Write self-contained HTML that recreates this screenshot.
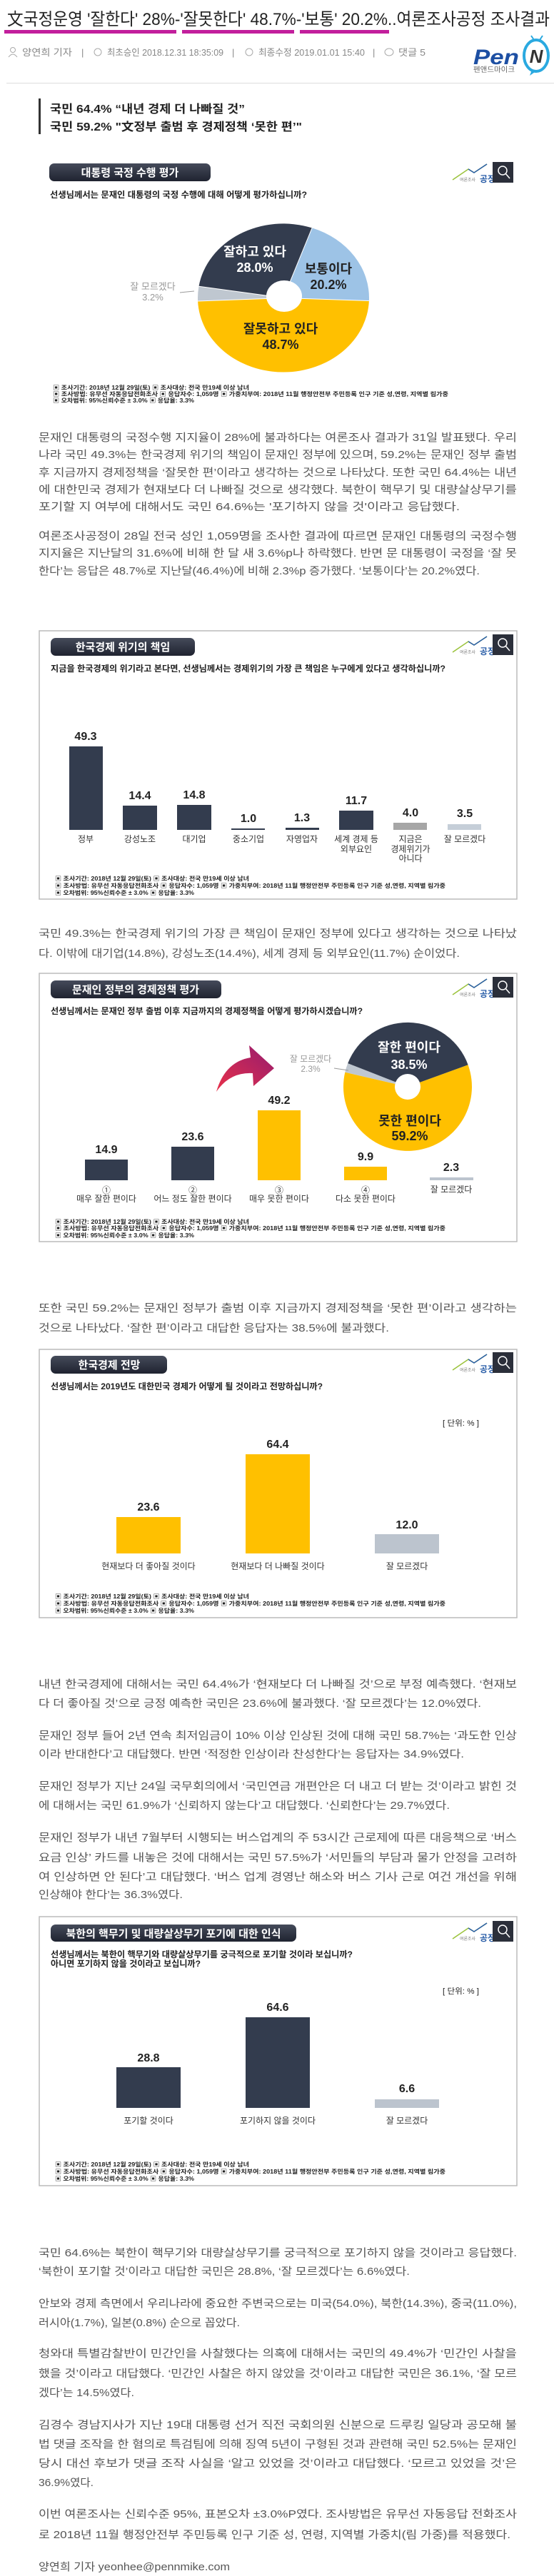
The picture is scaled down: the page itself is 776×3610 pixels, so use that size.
<!DOCTYPE html>
<html><head><meta charset="utf-8"><style>
html,body{margin:0;padding:0;background:#fff}
svg{display:block}
text{font-family:"Liberation Sans","Noto Sans CJK KR",sans-serif}
.b{font-size:15px;fill:#555}
.v{font-size:16px;font-weight:bold;fill:#222;text-anchor:middle}
.c{font-size:12px;fill:#333;text-anchor:middle}
.f{font-size:8px;fill:#222;font-weight:bold}
.q{font-size:12px;fill:#222;font-weight:bold}
.p{font-size:15px;fill:#fff;font-weight:bold;text-anchor:middle}
.m{font-size:13px;fill:#888}
</style></head><body>
<svg width="776" height="3610" viewBox="0 0 776 3610" xmlns="http://www.w3.org/2000/svg">
<defs>
<linearGradient id="pill" x1="0" y1="0" x2="0" y2="1"><stop offset="0" stop-color="#454b5a"/><stop offset="1" stop-color="#1f2330"/></linearGradient>
<linearGradient id="arr" x1="0" y1="1" x2="1" y2="0"><stop offset="0" stop-color="#e8304a"/><stop offset="1" stop-color="#951c6e"/></linearGradient>
<g id="lg">
<polyline points="0,25 22,10 30,15 48,3" fill="none" stroke="#9bc33c" stroke-width="1.5"/>
<polyline points="22,10 30,15 48,3" fill="none" stroke="#2a5ea8" stroke-width="1.5"/>
<text x="10" y="27" font-size="6" fill="#777">여론조사</text>
<text x="38" y="28" font-size="12" fill="#2a5ea8" font-weight="bold">공정</text>
<rect x="56" y="0" width="29" height="29" fill="#2b2f3a"/>
<circle cx="70" cy="12" r="6" fill="none" stroke="#fff" stroke-width="1.5"/>
<line x1="74" y1="16" x2="80" y2="23" stroke="#fff" stroke-width="1.5"/>
</g>
</defs>

<!-- header -->
<text x="10" y="35" font-size="24" fill="#222" textLength="760" lengthAdjust="spacingAndGlyphs">文국정운영 '잘한다' 28%-'잘못한다' 48.7%-'보통' 20.2%..여론조사공정 조사결과</text>
<rect x="6" y="42" width="241" height="5" fill="#c21f9c"/>
<rect x="255" y="42" width="157" height="5" fill="#c21f9c"/>
<rect x="420" y="42" width="125" height="5" fill="#c21f9c"/>
<circle cx="18" cy="70" r="3.5" fill="none" stroke="#aaa"/><path d="M12,80 Q18,72 24,80" fill="none" stroke="#aaa"/>
<text class="m" x="31" y="78" textLength="70" lengthAdjust="spacingAndGlyphs">양연희 기자</text>
<text class="m" x="114" y="78" fill="#ccc">|</text>
<circle cx="137" cy="73" r="5" fill="none" stroke="#aaa"/>
<text class="m" x="150" y="78" textLength="163" lengthAdjust="spacingAndGlyphs">최초승인 2018.12.31 18:35:09</text>
<text class="m" x="325" y="78">|</text>
<circle cx="349" cy="73" r="5" fill="none" stroke="#aaa"/>
<text class="m" x="362" y="78" textLength="149" lengthAdjust="spacingAndGlyphs">최종수정 2019.01.01 15:40</text>
<text class="m" x="522" y="78">|</text>
<ellipse cx="545" cy="73" rx="6" ry="5" fill="none" stroke="#aaa"/>
<text class="m" x="558" y="78" textLength="38" lengthAdjust="spacingAndGlyphs">댓글 5</text>
<text x="663" y="90" font-size="30" font-weight="bold" font-style="italic" fill="#1d4fa3" textLength="64" lengthAdjust="spacingAndGlyphs">Pen</text>
<ellipse cx="751" cy="78" rx="17" ry="22" fill="#fff" stroke="#2aa9e0" stroke-width="4"/>
<path d="M745,98 L742,106 L752,99Z" fill="#2aa9e0"/>
<line x1="748" y1="56" x2="744" y2="50" stroke="#2aa9e0" stroke-width="2"/><line x1="756" y1="56" x2="760" y2="50" stroke="#2aa9e0" stroke-width="2"/>
<text x="751" y="88" font-size="26" font-weight="bold" font-style="italic" fill="#333" text-anchor="middle">N</text>
<text x="663" y="101" font-size="10" fill="#666" textLength="58" lengthAdjust="spacingAndGlyphs">펜앤드마이크</text>
<rect x="9" y="116" width="767" height="1" fill="#ddd"/>
<rect x="54" y="138" width="3" height="50" fill="#333"/>
<text x="70" y="158" font-size="16" font-weight="bold" fill="#222" textLength="273" lengthAdjust="spacingAndGlyphs">국민 64.4% “내년 경제 더 나빠질 것”</text>
<text x="70" y="183" font-size="16" font-weight="bold" fill="#222" textLength="353" lengthAdjust="spacingAndGlyphs">국민 59.2% "文정부 출범 후 경제정책 ‘못한 편’"</text>

<!-- chart 1 -->
<rect x="69" y="229" width="226" height="25" rx="7" fill="url(#pill)"/>
<text class="p" x="182" y="247">대통령 국정 수행 평가</text>
<use href="#lg" x="634" y="227"/>
<text class="q" x="70" y="277" textLength="360" lengthAdjust="spacingAndGlyphs">선생님께서는 문재인 대통령의 국정 수행에 대해 어떻게 평가하십니까?</text>
<path d="M397,417.5 L437.1,319.4 A120 104 0 0 1 516.9,421.5 Z" fill="#9dc3e6"/>
<path d="M397,417.5 L516.9,421.5 A120 104 0 0 1 277.1,422 Z" fill="#ffc000"/>
<path d="M397,417.5 L277.1,422 A120 104 0 0 1 278.5,401.2 Z" fill="#bfc7d0"/>
<path d="M397,417.5 L278.5,401.2 A120 104 0 0 1 437.1,319.4 Z" fill="#333c4e"/>
<path d="M397,417.5 L437.1,319.4 M397,417.5 L516.9,421.5 M397,417.5 L277.1,422 M397,417.5 L278.5,401.2" stroke="#fff" stroke-width="1"/>
<ellipse cx="398" cy="415" rx="25" ry="22" fill="#fff"/>
<g font-size="18" font-weight="bold" text-anchor="middle">
<text x="357" y="359" fill="#fff">잘하고 있다</text><text x="357" y="381" fill="#fff">28.0%</text>
<text x="460" y="383" fill="#222">보통이다</text><text x="460" y="405" fill="#222">20.2%</text>
<text x="393" y="467" fill="#222">잘못하고 있다</text><text x="393" y="489" fill="#222">48.7%</text>
</g>
<text x="214" y="406" font-size="13" fill="#999" text-anchor="middle">잘 모르겠다</text>
<text x="214" y="421" font-size="13" fill="#999" text-anchor="middle">3.2%</text>
<line x1="252" y1="410" x2="272" y2="408" stroke="#999"/>
<text class="f" x="74" y="546" textLength="275" lengthAdjust="spacingAndGlyphs">▣ 조사기간: 2018년 12월 29일(토) ▣ 조사대상: 전국 만19세 이상 남녀</text>
<text class="f" x="74" y="555" textLength="554" lengthAdjust="spacingAndGlyphs">▣ 조사방법: 유무선 자동응답전화조사 ▣ 응답자수: 1,059명 ▣ 가중치부여: 2018년 11월 행정안전부 주민등록 인구 기준 성,연령, 지역별 림가중</text>
<text class="f" x="74" y="564" textLength="198" lengthAdjust="spacingAndGlyphs">▣ 오차범위: 95%신뢰수준 ± 3.0% ▣ 응답율: 3.3%</text>

<g class="b">
<text class="b" x="54" y="618" textLength="670" lengthAdjust="spacingAndGlyphs">문재인 대통령의 국정수행 지지율이 28%에 불과하다는 여론조사 결과가 31일 발표됐다. 우리</text>
<text class="b" x="54" y="642" textLength="670" lengthAdjust="spacingAndGlyphs">나라 국민 49.3%는 한국경제 위기의 책임이 문재인 정부에 있으며, 59.2%는 문재인 정부 출범</text>
<text class="b" x="54" y="667" textLength="670" lengthAdjust="spacingAndGlyphs">후 지금까지 경제정책을 ‘잘못한 편’이라고 생각하는 것으로 나타났다. 또한 국민 64.4%는 내년</text>
<text class="b" x="54" y="691" textLength="670" lengthAdjust="spacingAndGlyphs">에 대한민국 경제가 현재보다 더 나빠질 것으로 생각했다. 북한이 핵무기 및 대량살상무기를</text>
<text class="b" x="54" y="715" textLength="590" lengthAdjust="spacingAndGlyphs">포기할 지 여부에 대해서도 국민  64.6%는 '포기하지 않을 것'이라고 응답했다.</text>
<text class="b" x="54" y="756" textLength="670" lengthAdjust="spacingAndGlyphs">여론조사공정이 28일 전국 성인 1,059명을 조사한 결과에 따르면 문재인 대통령의 국정수행</text>
<text class="b" x="54" y="780" textLength="670" lengthAdjust="spacingAndGlyphs">지지율은 지난달의 31.6%에 비해 한 달 새 3.6%p나 하락했다. 반면 문 대통령이 국정을 ‘잘 못</text>
<text class="b" x="54" y="805" textLength="618" lengthAdjust="spacingAndGlyphs">한다’는 응답은 48.7%로 지난달(46.4%)에 비해 2.3%p 증가했다. ‘보통이다’는 20.2%였다.</text>
</g>

<!-- chart 2 -->
<rect x="55" y="884" width="669" height="376" fill="#fff" stroke="#bbb" stroke-width="1.5"/>
<rect x="71" y="894" width="202" height="25" rx="7" fill="url(#pill)"/>
<text class="p" x="172" y="912">한국경제 위기의 책임</text>
<use href="#lg" x="634" y="889"/>
<text class="q" x="71" y="941" textLength="553" lengthAdjust="spacingAndGlyphs">지금을 한국경제의 위기라고 본다면, 선생님께서는 경제위기의 가장 큰 책임은 누구에게 있다고 생각하십니까?</text>
<g fill="#333c4e">
<rect x="97" y="1046" width="47" height="117"/>
<rect x="172" y="1129" width="48" height="34"/>
<rect x="248" y="1128" width="48" height="35"/>
<rect x="324" y="1161" width="47" height="2"/>
<rect x="400" y="1160" width="47" height="3"/>
<rect x="475" y="1136" width="48" height="27"/>
</g>
<rect x="551" y="1153" width="47" height="10" fill="#a6a6a6"/>
<rect x="627" y="1155" width="47" height="8" fill="#c5ced8"/>
<text class="v" x="120" y="1037">49.3</text><text class="v" x="196" y="1120">14.4</text><text class="v" x="272" y="1119">14.8</text>
<text class="v" x="348" y="1152">1.0</text><text class="v" x="423" y="1151">1.3</text><text class="v" x="499" y="1127">11.7</text>
<text class="v" x="575" y="1144">4.0</text><text class="v" x="651" y="1145">3.5</text>
<text class="c" x="120" y="1180">정부</text><text class="c" x="196" y="1180">강성노조</text><text class="c" x="272" y="1180">대기업</text>
<text class="c" x="348" y="1180">중소기업</text><text class="c" x="423" y="1180">자영업자</text>
<text class="c" x="499" y="1180">세계 경제 등</text><text class="c" x="499" y="1194">외부요인</text>
<text class="c" x="575" y="1180">지금은</text><text class="c" x="575" y="1194">경제위기가</text><text class="c" x="575" y="1207">아니다</text>
<text class="c" x="651" y="1180">잘 모르겠다</text>
<text class="f" x="77" y="1234" textLength="272" lengthAdjust="spacingAndGlyphs">▣ 조사기간: 2018년 12월 29일(토) ▣ 조사대상: 전국 만19세 이상 남녀</text>
<text class="f" x="77" y="1244" textLength="547" lengthAdjust="spacingAndGlyphs">▣ 조사방법: 유무선 자동응답전화조사 ▣ 응답자수: 1,059명 ▣ 가중치부여: 2018년 11월 행정안전부 주민등록 인구 기준 성,연령, 지역별 림가중</text>
<text class="f" x="77" y="1254" textLength="195" lengthAdjust="spacingAndGlyphs">▣ 오차범위: 95%신뢰수준 ± 3.0% ▣ 응답율: 3.3%</text>

<text class="b" x="54" y="1313" textLength="670" lengthAdjust="spacingAndGlyphs">국민 49.3%는 한국경제 위기의 가장 큰 책임이 문재인 정부에 있다고 생각하는 것으로 나타났</text>
<text class="b" x="54" y="1341" textLength="590" lengthAdjust="spacingAndGlyphs">다. 이밖에 대기업(14.8%), 강성노조(14.4%), 세계 경제 등 외부요인(11.7%) 순이었다.</text>

<!-- chart 3 -->
<rect x="55" y="1364" width="669" height="376" fill="#fff" stroke="#bbb" stroke-width="1.5"/>
<rect x="71" y="1374" width="239" height="25" rx="7" fill="url(#pill)"/>
<text class="p" x="190" y="1392">문재인 정부의 경제정책 평가</text>
<use href="#lg" x="634" y="1369"/>
<text class="q" x="71" y="1421" textLength="437" lengthAdjust="spacingAndGlyphs">선생님께서는 문재인 정부 출범 이후 지금까지의 경제정책을 어떻게 평가하시겠습니까?</text>
<rect x="119" y="1625" width="60" height="29" fill="#333c4e"/>
<rect x="240" y="1607" width="60" height="47" fill="#333c4e"/>
<rect x="361" y="1556" width="60" height="98" fill="#ffc000"/>
<rect x="482" y="1635" width="60" height="19" fill="#ffc000"/>
<rect x="602" y="1650" width="61" height="4" fill="#bcc4ce"/>
<text class="v" x="149" y="1616">14.9</text><text class="v" x="270" y="1598">23.6</text><text class="v" x="391" y="1547">49.2</text>
<text class="v" x="512" y="1626">9.9</text><text class="v" x="632" y="1641">2.3</text>
<text class="c" x="149" y="1672">①</text><text class="c" x="149" y="1684">매우 잘한 편이다</text>
<text class="c" x="270" y="1672">②</text><text class="c" x="270" y="1684">어느 정도 잘한 편이다</text>
<text class="c" x="391" y="1672">③</text><text class="c" x="391" y="1684">매우 못한 편이다</text>
<text class="c" x="512" y="1672">④</text><text class="c" x="512" y="1684">다소 못한 편이다</text>
<text class="c" x="632" y="1671">잘 모르겠다</text>
<path d="M571,1523 L655.6,1492.2 A90 90 0 1 1 483.3,1502.6 Z" fill="#ffc000"/>
<path d="M571,1523 L483.3,1502.6 A90 90 0 0 1 487.2,1490.1 Z" fill="#bfc7d0"/>
<path d="M571,1523 L487.2,1490.1 A90 90 0 0 1 655.6,1492.2 Z" fill="#333c4e"/>
<circle cx="571" cy="1523" r="18" fill="#fff"/>
<g font-size="18" font-weight="bold" text-anchor="middle">
<text x="573" y="1474" fill="#fff">잘한 편이다</text><text x="573" y="1498" fill="#fff">38.5%</text>
<text x="574" y="1577" fill="#222">못한 편이다</text><text x="574" y="1598" fill="#222">59.2%</text>
</g>
<text x="435" y="1488" font-size="12" fill="#999" text-anchor="middle">잘 모르겠다</text>
<text x="435" y="1502" font-size="12" fill="#999" text-anchor="middle">2.3%</text>
<line x1="468" y1="1497" x2="488" y2="1500" stroke="#999"/>
<path d="M303,1530 Q315,1488 351,1482 L349,1465 L384,1497 L355,1522 L354,1504 Q322,1502 303,1530 Z" fill="url(#arr)"/>
<text class="f" x="77" y="1715" textLength="272" lengthAdjust="spacingAndGlyphs">▣ 조사기간: 2018년 12월 29일(토) ▣ 조사대상: 전국 만19세 이상 남녀</text>
<text class="f" x="77" y="1724" textLength="547" lengthAdjust="spacingAndGlyphs">▣ 조사방법: 유무선 자동응답전화조사 ▣ 응답자수: 1,059명 ▣ 가중치부여: 2018년 11월 행정안전부 주민등록 인구 기준 성,연령, 지역별 림가중</text>
<text class="f" x="77" y="1734" textLength="195" lengthAdjust="spacingAndGlyphs">▣ 오차범위: 95%신뢰수준 ± 3.0% ▣ 응답율: 3.3%</text>

<text class="b" x="54" y="1838" textLength="670" lengthAdjust="spacingAndGlyphs">또한 국민 59.2%는 문재인 정부가 출범 이후 지금까지 경제정책을 ‘못한 편’이라고 생각하는</text>
<text class="b" x="54" y="1866" textLength="491" lengthAdjust="spacingAndGlyphs">것으로 나타났다. ‘잘한 편’이라고 대답한 응답자는 38.5%에 불과했다.</text>

<!-- chart 4 -->
<rect x="55" y="1891" width="669" height="376" fill="#fff" stroke="#bbb" stroke-width="1.5"/>
<rect x="71" y="1900" width="163" height="25" rx="7" fill="url(#pill)"/>
<text class="p" x="153" y="1918">한국경제 전망</text>
<use href="#lg" x="634" y="1895"/>
<text class="q" x="71" y="1947" textLength="381" lengthAdjust="spacingAndGlyphs">선생님께서는 2019년도 대한민국 경제가 어떻게 될 것이라고 전망하십니까?</text>
<text x="620" y="1998" font-size="11" fill="#222" textLength="51" lengthAdjust="spacingAndGlyphs">[ 단위: % ]</text>
<rect x="163" y="2126" width="90" height="51" fill="#ffc000"/>
<rect x="344" y="2038" width="90" height="139" fill="#ffc000"/>
<rect x="525" y="2150" width="90" height="27" fill="#bcc4ce"/>
<text class="v" x="208" y="2117">23.6</text><text class="v" x="389" y="2029">64.4</text><text class="v" x="570" y="2142">12.0</text>
<text class="c" x="208" y="2199">현재보다 더 좋아질 것이다</text><text class="c" x="389" y="2199">현재보다 더 나빠질 것이다</text><text class="c" x="570" y="2199">잘 모르겠다</text>
<text class="f" x="77" y="2240" textLength="272" lengthAdjust="spacingAndGlyphs">▣ 조사기간: 2018년 12월 29일(토) ▣ 조사대상: 전국 만19세 이상 남녀</text>
<text class="f" x="77" y="2250" textLength="547" lengthAdjust="spacingAndGlyphs">▣ 조사방법: 유무선 자동응답전화조사 ▣ 응답자수: 1,059명 ▣ 가중치부여: 2018년 11월 행정안전부 주민등록 인구 기준 성,연령, 지역별 림가중</text>
<text class="f" x="77" y="2260" textLength="195" lengthAdjust="spacingAndGlyphs">▣ 오차범위: 95%신뢰수준 ± 3.0% ▣ 응답율: 3.3%</text>

<text class="b" x="54" y="2365" textLength="670" lengthAdjust="spacingAndGlyphs">내년 한국경제에 대해서는 국민 64.4%가 ‘현재보다 더 나빠질 것’으로 부정 예측했다. ‘현재보</text>
<text class="b" x="54" y="2392" textLength="620" lengthAdjust="spacingAndGlyphs">다 더 좋아질 것’으로 긍정 예측한 국민은 23.6%에 불과했다. ‘잘 모르겠다’는 12.0%였다.</text>
<text class="b" x="54" y="2437" textLength="670" lengthAdjust="spacingAndGlyphs">문재인 정부 들어 2년 연속 최저임금이 10% 이상 인상된 것에 대해 국민 58.7%는 ‘과도한 인상</text>
<text class="b" x="54" y="2463" textLength="596" lengthAdjust="spacingAndGlyphs">이라 반대한다’고 대답했다. 반면 ‘적정한 인상이라 찬성한다’는 응답자는 34.9%였다.</text>
<text class="b" x="54" y="2508" textLength="670" lengthAdjust="spacingAndGlyphs">문재인 정부가 지난 24일 국무회의에서 ‘국민연금 개편안은 더 내고 더 받는 것’이라고 밝힌 것</text>
<text class="b" x="54" y="2535" textLength="576" lengthAdjust="spacingAndGlyphs">에 대해서는 국민 61.9%가 ‘신뢰하지 않는다’고 대답했다. ‘신뢰한다’는 29.7%였다.</text>
<text class="b" x="54" y="2580" textLength="670" lengthAdjust="spacingAndGlyphs">문재인 정부가 내년 7월부터 시행되는 버스업계의 주 53시간 근로제에 따른 대응책으로 ‘버스</text>
<text class="b" x="54" y="2608" textLength="670" lengthAdjust="spacingAndGlyphs">요금 인상’ 카드를 내놓은 것에 대해서는 국민 57.5%가 ‘서민들의 부담과 물가 안정을 고려하</text>
<text class="b" x="54" y="2635" textLength="670" lengthAdjust="spacingAndGlyphs">여 인상하면 안 된다’고 대답했다. ‘버스 업계 경영난 해소와 버스 기사 근로 여건 개선을 위해</text>
<text class="b" x="54" y="2660" textLength="202" lengthAdjust="spacingAndGlyphs">인상해야 한다’는 36.3%였다.</text>

<!-- chart 5 -->
<rect x="55" y="2686" width="669" height="377" fill="#fff" stroke="#bbb" stroke-width="1.5"/>
<rect x="71" y="2697" width="344" height="24" rx="7" fill="url(#pill)"/>
<text class="p" x="243" y="2715">북한의 핵무기 및 대량살상무기 포기에 대한 인식</text>
<use href="#lg" x="634" y="2692"/>
<text class="q" x="71" y="2743" textLength="423" lengthAdjust="spacingAndGlyphs">선생님께서는 북한이 핵무기와 대량살상무기를 궁극적으로 포기할 것이라 보십니까?</text>
<text class="q" x="71" y="2756" textLength="210" lengthAdjust="spacingAndGlyphs">아니면 포기하지 않을 것이라고 보십니까?</text>
<text x="620" y="2794" font-size="11" fill="#222" textLength="51" lengthAdjust="spacingAndGlyphs">[ 단위: % ]</text>
<rect x="163" y="2897" width="90" height="57" fill="#333c4e"/>
<rect x="344" y="2827" width="90" height="127" fill="#333c4e"/>
<rect x="525" y="2942" width="90" height="12" fill="#bcc4ce"/>
<text class="v" x="208" y="2889">28.8</text><text class="v" x="389" y="2818">64.6</text><text class="v" x="570" y="2932">6.6</text>
<text class="c" x="208" y="2976">포기할 것이다</text><text class="c" x="389" y="2976">포기하지 않을 것이다</text><text class="c" x="570" y="2976">잘 모르겠다</text>
<text class="f" x="77" y="3036" textLength="272" lengthAdjust="spacingAndGlyphs">▣ 조사기간: 2018년 12월 29일(토) ▣ 조사대상: 전국 만19세 이상 남녀</text>
<text class="f" x="77" y="3046" textLength="547" lengthAdjust="spacingAndGlyphs">▣ 조사방법: 유무선 자동응답전화조사 ▣ 응답자수: 1,059명 ▣ 가중치부여: 2018년 11월 행정안전부 주민등록 인구 기준 성,연령, 지역별 림가중</text>
<text class="f" x="77" y="3056" textLength="195" lengthAdjust="spacingAndGlyphs">▣ 오차범위: 95%신뢰수준 ± 3.0% ▣ 응답율: 3.3%</text>

<text class="b" x="54" y="3162" textLength="670" lengthAdjust="spacingAndGlyphs">국민 64.6%는 북한이 핵무기와 대량살상무기를 궁극적으로 포기하지 않을 것이라고 응답했다.</text>
<text class="b" x="54" y="3188" textLength="520" lengthAdjust="spacingAndGlyphs">‘북한이 포기할 것’이라고 대답한 국민은 28.8%, ‘잘 모르겠다’는 6.6%였다.</text>
<text class="b" x="54" y="3233" textLength="670" lengthAdjust="spacingAndGlyphs">안보와 경제 측면에서 우리나라에 중요한 주변국으로는 미국(54.0%), 북한(14.3%), 중국(11.0%),</text>
<text class="b" x="54" y="3260" textLength="282" lengthAdjust="spacingAndGlyphs">러시아(1.7%), 일본(0.8%) 순으로 꼽았다.</text>
<text class="b" x="54" y="3303" textLength="670" lengthAdjust="spacingAndGlyphs">청와대 특별감찰반이 민간인을 사찰했다는 의혹에 대해서는 국민의 49.4%가 ‘민간인 사찰을</text>
<text class="b" x="54" y="3331" textLength="670" lengthAdjust="spacingAndGlyphs">했을 것’이라고 대답했다. ‘민간인 사찰은 하지 않았을 것’이라고 대답한 국민은 36.1%, ‘잘 모르</text>
<text class="b" x="54" y="3358" textLength="134" lengthAdjust="spacingAndGlyphs">겠다’는 14.5%였다.</text>
<text class="b" x="54" y="3403" textLength="670" lengthAdjust="spacingAndGlyphs">김경수 경남지사가 지난 19대 대통령 선거 직전 국회의원 신분으로 드루킹 일당과 공모해 불</text>
<text class="b" x="54" y="3430" textLength="670" lengthAdjust="spacingAndGlyphs">법 댓글 조작을 한 혐의로 특검팀에 의해 징역 5년이 구형된 것과 관련해 국민 52.5%는 문재인</text>
<text class="b" x="54" y="3457" textLength="670" lengthAdjust="spacingAndGlyphs">당시 대선 후보가 댓글 조작 사실을 ‘알고 있었을 것’이라고 대답했다. ‘모르고 있었을 것’은</text>
<text class="b" x="54" y="3484" textLength="77" lengthAdjust="spacingAndGlyphs">36.9%였다.</text>
<text class="b" x="54" y="3528" textLength="670" lengthAdjust="spacingAndGlyphs">이번 여론조사는 신뢰수준 95%, 표본오차 ±3.0%P였다. 조사방법은 유무선 자동응답 전화조사</text>
<text class="b" x="54" y="3557" textLength="661" lengthAdjust="spacingAndGlyphs">로 2018년 11월 행정안전부 주민등록 인구 기준 성, 연령, 지역별 가중치(림 가중)를 적용했다.</text>
<text class="b" x="54" y="3602" textLength="268" lengthAdjust="spacingAndGlyphs">양연희 기자 yeonhee@pennmike.com</text>
</svg>
</body></html>
